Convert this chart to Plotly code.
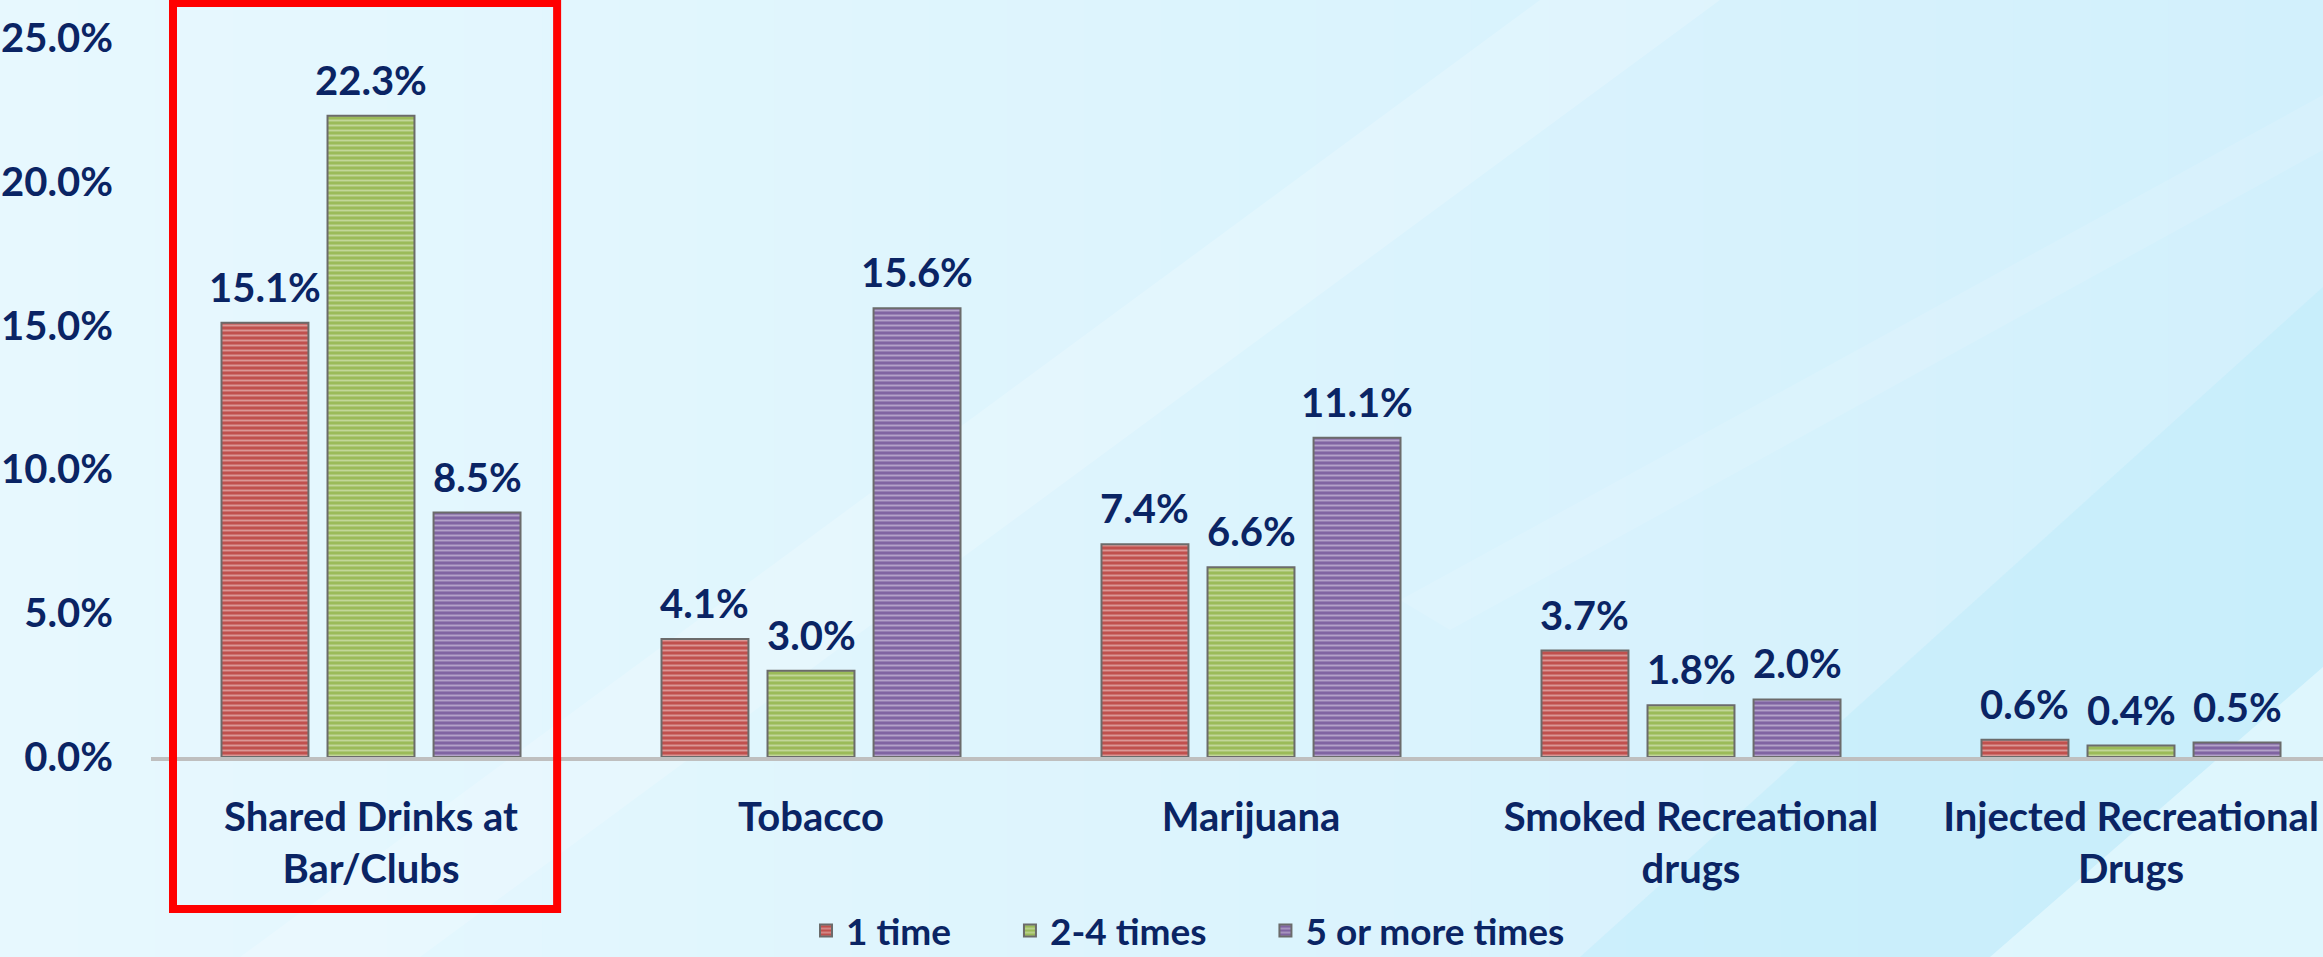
import plotly.graph_objects as go

# ---- data ----
categories = [
    "Shared Drinks at<br>Bar/Clubs",
    "Tobacco",
    "Marijuana",
    "Smoked Recreational<br>drugs",
    "Injected Recreational<br>Drugs",
]
series_names = ["1 time", "2-4 times", "5 or more times"]
one_time = [15.1, 4.1, 7.4, 3.7, 0.6]
two_to_four = [22.3, 3.0, 6.6, 1.8, 0.4]
five_plus = [8.5, 15.6, 11.1, 2.0, 0.5]
y_ticks = [0, 5, 10, 15, 20, 25]

# ---- styling ----
NAVY = "#0A2464"
FONT = "Lato"
FS = 40
dark_colors = ["#C0504D", "#9BBB59", "#8064A2"]
light_colors = ["#F4DEDD", "#E9F1DA", "#E6DFEE"]
BARGAP = 0.277
BARGROUPGAP = 0.18

W, H = 2323, 957
ML, MR, MT, MB = 151, 0, 38, 200
plot_w = W - ML - MR
plot_h = H - MT - MB


def px(x):
    return (x - ML) / plot_w


def py(y):
    return (H - MB - y) / plot_h


fig = go.Figure()

all_series = [one_time, two_to_four, five_plus]
NBSP = "\u00a0"
for k, (name, vals, dk, lt) in enumerate(zip(series_names, all_series, dark_colors, light_colors)):
    # solid dark fill crossed by thin light horizontal lines
    fig.add_trace(go.Bar(
        name=name + (NBSP * 6 if k < 2 else ""),
        x=list(range(len(categories))),
        y=vals,
        marker=dict(
            color=dk,
            line=dict(color="#6B6B6B", width=2),
            pattern=dict(shape="-", fgcolor=lt, bgcolor=dk, size=5, solidity=0.38),
        ),
    ))

# value labels above each bar
slot = (1 - BARGAP) / 3
annotations = []
for k, vals in enumerate(all_series):
    for i, v in enumerate(vals):
        annotations.append(dict(
            x=i + (k - 1) * slot, y=v, xref="x", yref="y",
            text=f"{v:.1f}%", showarrow=False,
            yanchor="middle", yshift=36,
            font=dict(family=FONT, size=FS, color=NAVY, weight="bold"),
        ))

# background: soft horizontal gradient with diagonal light bands
shapes = []
n_strips = 30
c0 = (0xE7, 0xF8, 0xFE)
c1 = (0xD2, 0xF0, 0xFC)
for s in range(n_strips):
    t = s / (n_strips - 1)
    col = tuple(round(a + (b - a) * t) for a, b in zip(c0, c1))
    x0 = W * s / n_strips
    x1 = W * (s + 1) / n_strips + 1
    shapes.append(dict(
        type="rect", xref="paper", yref="paper", layer="below",
        x0=px(x0), x1=px(x1), y0=py(H), y1=py(0),
        fillcolor="rgb(%d,%d,%d)" % col, line=dict(width=0),
    ))


def poly(points, color, opacity):
    path = "M " + " L ".join(f"{px(a):.5f},{py(b):.5f}" for a, b in points) + " Z"
    return dict(type="path", xref="paper", yref="paper", layer="below",
                path=path, fillcolor=color, opacity=opacity, line=dict(width=0))


shapes.append(poly([(1540, 0), (1720, 0), (420, 957), (240, 957)], "#FFFFFF", 0.20))
shapes.append(poly([(2323, 287), (2323, 957), (1580, 957)], "#BDEBFB", 0.45))
shapes.append(poly([(2323, 667), (2323, 957), (1990, 957)], "#E4F7FE", 0.8))
shapes.append(poly([(2323, 95), (2323, 150), (1450, 630), (1400, 600)], "#FFFFFF", 0.12))

# highlight box around the first category
shapes.append(dict(
    type="rect", xref="x", yref="paper",
    x0=-0.45, x1=0.423, y0=py(909), y1=py(3),
    line=dict(color="#FF0000", width=8), fillcolor="rgba(0,0,0,0)",
    layer="above",
))

fig.update_layout(
    width=W, height=H,
    margin=dict(l=ML, r=MR, t=MT, b=MB, pad=0, autoexpand=False),
    paper_bgcolor="#DCF3FC",
    plot_bgcolor="rgba(0,0,0,0)",
    barmode="group",
    bargap=BARGAP,
    bargroupgap=BARGROUPGAP,
    font=dict(family=FONT, size=FS, color=NAVY, weight="bold"),
    showlegend=True,
    legend=dict(
        orientation="h", x=px(1188), xanchor="center", y=py(931), yanchor="middle",
        font=dict(family=FONT, size=37, color=NAVY, weight="bold"),
        bgcolor="rgba(0,0,0,0)", traceorder="normal",
    ),
    xaxis=dict(
        automargin=False,
        tickmode="array",
        tickvals=list(range(len(categories))),
        ticktext=categories,
        range=[-0.5, -0.5 + plot_w / 440],
        showline=True, linecolor="#BFBFBF", linewidth=4,
        ticks="outside", ticklen=22, tickcolor="rgba(0,0,0,0)",
        showgrid=False, zeroline=False,
        tickfont=dict(family=FONT, size=FS, color=NAVY, weight="bold"),
    ),
    yaxis=dict(
        automargin=False,
        range=[0, 25],
        tickmode="array", tickvals=y_ticks,
        ticktext=[f"{v:.1f}%" for v in y_ticks],
        showgrid=False, zeroline=False, showline=False,
        ticks="outside", ticklen=29, tickcolor="rgba(0,0,0,0)",
        tickfont=dict(family=FONT, size=FS, color=NAVY, weight="bold"),
    ),
    annotations=annotations,
    shapes=shapes,
)

fig.write_html("out.html")
